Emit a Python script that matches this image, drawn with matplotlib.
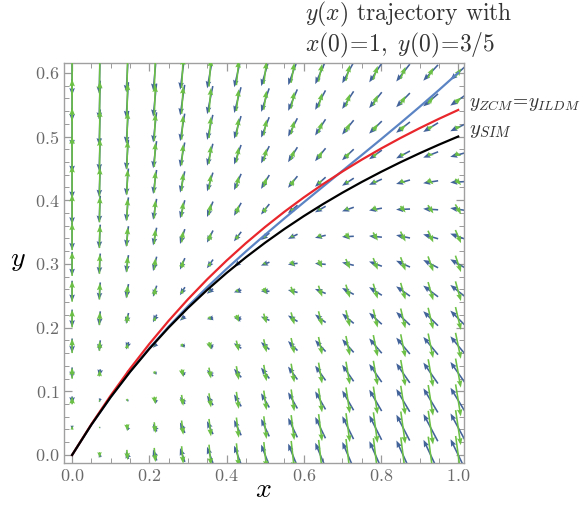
import matplotlib
matplotlib.use("Agg")
import matplotlib.pyplot as plt
import numpy as np

plt.rcParams['mathtext.fontset'] = 'cm'
plt.rcParams['font.family'] = 'serif'
plt.rcParams['font.serif'] = ['cmr10', 'DejaVu Serif']

# grid of the two vector fields (15 x 15 points)
col_x = [0.0, 0.0714, 0.1429, 0.2143, 0.2857, 0.3571, 0.4286, 0.5,
         0.5714, 0.6429, 0.7143, 0.7857, 0.8571, 0.9286, 1.0]
row_y = [0.0, 0.0429, 0.0857, 0.1286, 0.1714, 0.2143, 0.2571, 0.3,
         0.3429, 0.3857, 0.4286, 0.4714, 0.5143, 0.5571, 0.6]

# velocity field (blue): u per column, v = row part + column part
blue_u = [0.0, -0.0714, -0.1429, -0.2143, -0.2857, -0.3571, -0.4286, -0.5,
          -0.5714, -0.6429, -0.7143, -0.7857, -0.8571, -0.9286, -1.0]
blue_v_col = [0.0, 0.1378, 0.2656, 0.3841, 0.4938, 0.5956, 0.6900, 0.7778,
              0.8595, 0.9357, 1.0069, 1.0736, 1.1361, 1.1948, 1.25]
blue_v_row = [0.0, -0.1286, -0.2571, -0.3857, -0.5143, -0.6429, -0.7714, -0.9,
              -1.0286, -1.1571, -1.2857, -1.4143, -1.5429, -1.6714, -1.8]

# acceleration field (green), rescaled to the same maximum length
green_u = [0.0, 0.0238, 0.0476, 0.0714, 0.0952, 0.1190, 0.1429, 0.1667,
           0.1905, 0.2143, 0.2381, 0.2619, 0.2857, 0.3095, 0.3333]
green_v_col = [0.0, -0.1820, -0.3477, -0.4981, -0.6346, -0.7589, -0.8720, -0.9753,
               -1.0699, -1.1566, -1.2365, -1.3102, -1.3782, -1.4414, -1.5]
green_v_row = [0.0, 0.1286, 0.2571, 0.3857, 0.5143, 0.6429, 0.7714, 0.9,
               1.0286, 1.1571, 1.2857, 1.4143, 1.5429, 1.6714, 1.8]

# curves
curve_x = [0.0, 0.05, 0.1, 0.15, 0.2, 0.25, 0.3, 0.35, 0.4, 0.45, 0.5,
           0.55, 0.6, 0.65, 0.7, 0.75, 0.8, 0.85, 0.9, 0.95, 1.0]
y_sim = [0.0, 0.04762, 0.09091, 0.13043, 0.16667, 0.2, 0.23077, 0.25926,
         0.28571, 0.31034, 0.33333, 0.35484, 0.375, 0.39394, 0.41176,
         0.42857, 0.44444, 0.45946, 0.47368, 0.48718, 0.5]
y_ildm = [0.0, 0.04834, 0.09341, 0.13537, 0.17438, 0.21067, 0.24442, 0.27586,
          0.30515, 0.33249, 0.35802, 0.38192, 0.40430, 0.42529, 0.44501,
          0.46356, 0.48102, 0.49750, 0.51305, 0.52775, 0.54167]
y_traj = [0.0, 0.04763, 0.09101, 0.13077, 0.16747, 0.20156, 0.23347, 0.26355,
          0.29211, 0.31946, 0.34583, 0.37148, 0.39660, 0.42140, 0.44607,
          0.47076, 0.49564, 0.52087, 0.54658, 0.57292, 0.6]

xticks = [0.0, 0.2, 0.4, 0.6, 0.8, 1.0]
yticks = [0.0, 0.1, 0.2, 0.3, 0.4, 0.5, 0.6]


def squash(u, v, p=0.9):
    # shorter arrows get relatively a bit longer
    m = np.hypot(u, v)
    mmax = m.max()
    f = np.where(m > 0, (m / mmax) ** p / np.maximum(m / mmax, 1e-12), 0)
    return u * f * mmax, v * f * mmax


fig = plt.figure(figsize=(5.83, 5.05), dpi=100)
ax = fig.add_axes([64 / 583, 42 / 505, 400 / 583, 400 / 505])

X, Y = np.meshgrid(col_x, row_y)
BU = np.tile(blue_u, (len(row_y), 1))
BV = np.array(blue_v_row)[:, None] + np.array(blue_v_col)[None, :]
GU = np.tile(green_u, (len(row_y), 1))
GV = np.array(green_v_row)[:, None] + np.array(green_v_col)[None, :]
BU, BV = squash(BU, BV)
GU, GV = squash(GU, GV)

qkw = dict(angles='xy', scale_units='xy', scale=46, pivot='middle',
           units='dots', width=1.6, headwidth=3.5, headlength=4.5,
           headaxislength=4.0, minlength=0.1)
ax.quiver(X, Y, BU, BV, color='#42629a', zorder=2, **qkw)
ax.quiver(X, Y, GU, GV, color='#6cc046', zorder=3, **qkw)

ax.plot(curve_x, y_traj, color='#5b84c4', lw=1.6, zorder=4)
ax.plot(curve_x, y_ildm, color='#e8262b', lw=1.6, zorder=5)
ax.plot(curve_x, y_sim, color='black', lw=1.6, zorder=6)

ax.set_xlim(-0.021, 1.015)
ax.set_ylim(-0.0126, 0.6154)

ax.set_xticks(xticks)
ax.set_xticklabels([f"${v:.1f}$" for v in xticks])
ax.set_yticks(yticks)
ax.set_yticklabels([f"${v:.1f}$" for v in yticks])
ax.set_xticks(np.arange(0, 1.001, 0.05), minor=True)
ax.set_yticks(np.arange(0, 0.601, 0.02), minor=True)
ax.tick_params(which='both', direction='in', top=True, right=True,
               color='#9a9a9a', labelcolor='#6a6a6a', labelsize=13)
ax.tick_params(which='major', length=6, width=0.9)
ax.tick_params(which='minor', length=3.5, width=0.7)
for s in ax.spines.values():
    s.set_color('#a0a0a0')
    s.set_linewidth(1.0)

fig.text(263 / 583, 1 - 490 / 505, r"$x$", fontsize=20, ha='center', va='center')
fig.text(18 / 583, 1 - 260 / 505, r"$y$", fontsize=20, ha='center', va='center')

fig.text(305 / 583, 1 - 30 / 505,
         "$y(x)$ trajectory with\n$x(0)\\!=\\!1,\\ y(0)\\!=\\!3/5$",
         fontsize=17, color='#333333', ha='left', va='center', linespacing=1.05)
fig.text(469 / 583, 1 - 104 / 505, r"$y_{ZCM}\!=\!y_{ILDM}$",
         fontsize=14, color='#333333', ha='left', va='center')
fig.text(469 / 583, 1 - 131 / 505, r"$y_{SIM}$",
         fontsize=15, color='#333333', ha='left', va='center')

fig.savefig("out.png", dpi=100)
